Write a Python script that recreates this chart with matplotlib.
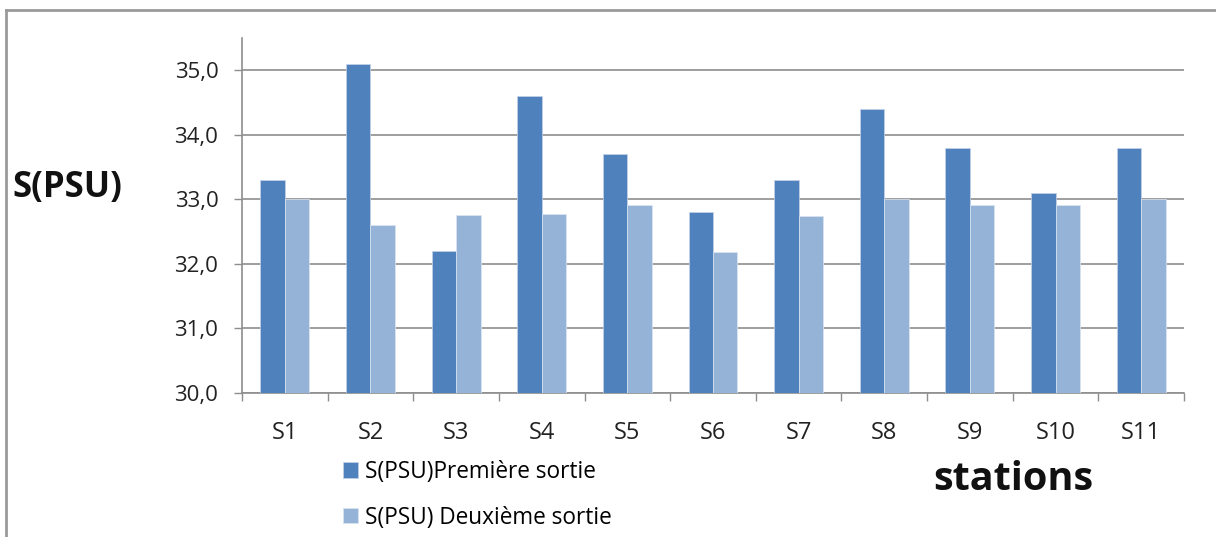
import numpy as np
import matplotlib
matplotlib.use("Agg")
import matplotlib.pyplot as plt
from matplotlib.lines import Line2D

plt.rcParams["font.family"] = ["Open Sans", "DejaVu Sans"]

stations = ["S1", "S2", "S3", "S4", "S5", "S6", "S7", "S8", "S9", "S10", "S11"]
sortie_1 = [33.3, 35.1, 32.2, 34.6, 33.7, 32.8, 33.3, 34.4, 33.8, 33.1, 33.8]
sortie_2 = [33.0, 32.6, 32.76, 32.78, 32.92, 32.18, 32.74, 33.0, 32.92, 32.92, 33.0]
label_1 = "S(PSU)Première sortie"
label_2 = "S(PSU) Deuxième sortie"
yticks = [30.0, 31.0, 32.0, 33.0, 34.0, 35.0]

dark = "#4F81BD"
light = "#95B3D7"
grid_c = "#8E8E8E"

fig = plt.figure(figsize=(12.16, 5.37), dpi=100)
ax = fig.add_axes([242 / 1216, 1 - 393 / 537, 942 / 1216, 355 / 537])

x = np.arange(len(stations))
w = 1 / 3.5
ax.bar(x - w / 2, np.array(sortie_1) - 30, w, bottom=30, color=dark,
       edgecolor="#C5D3E8", linewidth=0.5, label=label_1, zorder=3)
ax.bar(x + w / 2, np.array(sortie_2) - 30, w, bottom=30, color=light,
       edgecolor="#DCE6F2", linewidth=0.5, label=label_2, zorder=3)

ax.set_xlim(-0.5, len(stations) - 0.5)
ax.set_ylim(30, 35.5)
ax.set_yticks(yticks)
ax.set_yticklabels([f"{v:.1f}".replace(".", ",") for v in yticks], fontsize=16, color="#222222")
ax.set_xticks(x)
ax.set_xticklabels(stations, fontsize=17, color="#222222")
ax.set_xticks(np.arange(len(stations) + 1) - 0.5, minor=True)

ax.yaxis.grid(True, color=grid_c, linewidth=1.2, zorder=0)
ax.tick_params(axis="y", length=6, width=1.0, color=grid_c, pad=11)
ax.tick_params(axis="x", which="major", length=0, pad=20)
ax.tick_params(axis="x", which="minor", length=6, width=1.0, color=grid_c)

for side in ["top", "right"]:
    ax.spines[side].set_visible(False)
ax.spines["left"].set_color(grid_c)
ax.spines["bottom"].set_color(grid_c)
ax.spines["left"].set_linewidth(1.2)
ax.spines["bottom"].set_linewidth(1.2)

fig.text(12 / 1216, 1 - 188 / 537, "S(PSU)", fontsize=25, fontweight="bold",
         ha="left", va="center", color="#111111")
fig.text(1013 / 1216, 1 - 480 / 537, "stations", fontsize=28.5, fontweight="bold",
         ha="center", va="center", color="#111111")

fig.legend(loc="upper left", bbox_to_anchor=(343 / 1216, 1 - 460 / 537),
           frameon=False, fontsize=16.3, handlelength=0.65, handleheight=0.65,
           handletextpad=0.3, labelspacing=0.95, borderaxespad=0, borderpad=0)

# outer frame on the left and top
fig.add_artist(Line2D([6 / 1216, 6 / 1216], [0, 1 - 10 / 537], transform=fig.transFigure,
                      color="#9A9A9A", linewidth=2))
fig.add_artist(Line2D([6 / 1216, 1], [1 - 10 / 537, 1 - 10 / 537], transform=fig.transFigure,
                      color="#9A9A9A", linewidth=2))

fig.savefig("out.png", dpi=100)
